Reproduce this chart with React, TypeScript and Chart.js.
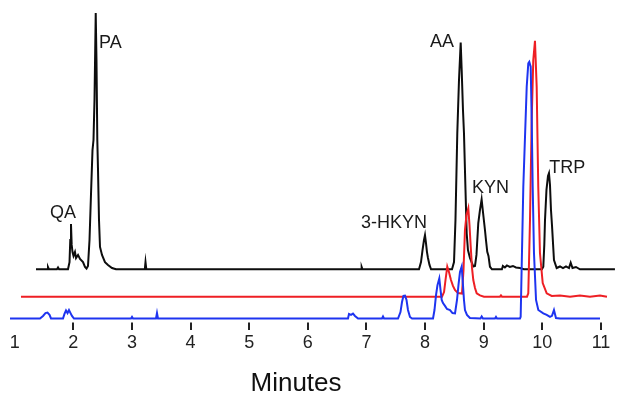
import React, { useEffect, useRef } from 'react';
import { Chart, registerables } from 'chart.js';

Chart.register(...registerables);

// ---------- data (minutes vs normalized signal, each trace relative to its own baseline) ----------
const X_TICKS = [1, 2, 3, 4, 5, 6, 7, 8, 9, 10, 11];
const X_TICK_MARKS = [2, 3, 4, 5, 6, 7, 8, 9, 10, 11];
const X_TITLE = 'Minutes';
const X_TITLE_AT = 5.798;

const blackTime = [
  1.363, 1.551, 1.568, 1.585, 1.721, 1.739, 1.756, 1.909, 1.935, 1.948, 1.96, 1.972, 1.986, 2.003, 2.028, 2.046,
  2.08, 2.114, 2.165, 2.199, 2.225, 2.25, 2.276, 2.301, 2.327, 2.344, 2.361, 2.382, 2.395, 2.409, 2.421, 2.438,
  2.455, 2.489, 2.54, 2.591, 2.66, 2.728, 3.219, 3.231, 3.245, 6.907, 6.918, 6.932, 7.896, 7.93, 7.956, 7.981,
  7.998, 8.015, 8.032, 8.049, 8.075, 8.101, 8.459, 8.493, 8.518, 8.549, 8.578, 8.607, 8.624, 8.646, 8.663, 8.689,
  8.709, 8.731, 8.765, 8.822, 8.851, 8.876, 8.907, 8.936, 8.964, 8.987, 9.021, 9.038, 9.06, 9.081, 9.106, 9.14,
  9.31, 9.327, 9.361, 9.395, 9.446, 9.498, 9.549, 9.617, 9.685, 9.992, 10.016, 10.033, 10.045, 10.07, 10.096,
  10.113, 10.13, 10.147, 10.164, 10.198, 10.244, 10.301, 10.352, 10.403, 10.454, 10.483, 10.514, 10.573, 10.641,
  11.238,
];
const blackSignal = [
  0, 0, 0.9, 0, 0, 0.7, 0, 0, 2.8, 11.4, 17.6, 9.5, 6.7, 5.2, 6.7, 4.4,
  5.6, 4.0, 2.8, 0.9, 0.3, 1.3, 11.4, 28.9, 46.4, 50.3, 65.9, 99.7, 81.4, 50.3, 38.6, 19.2,
  8.7, 5.6, 2.8, 1.7, 0.5, 0, 0, 2.8, 0, 0, 0.9, 0, 0, 2.8, 7.5, 11.4,
  13.3, 10.2, 6.7, 4.4, 1.7, 0, 0, 2.8, 19.2, 53.0, 73.7, 88.2, 77.5, 62.0, 53.0, 30.9,
  14.1, 7.5, 4.4, 1.1, 1.3, 5.6, 18.0, 23.1, 27.2, 22.3, 15.3, 11.4, 6.8, 5.2, 1.0, 0,
  0, 1.3, 0.7, 1.5, 0.9, 1.3, 0.7, 0.5, 0, 0, 1.0, 9.5, 19.2, 30.9, 36.3,
  37.4, 32.8, 23.1, 17.2, 3.6, 0.5, 1.1, 0.5, 1.1, 0.5, 2.6, 0.5, 0.9, 0,
  0,
];

const redTime = [
  1.107, 8.288, 8.323, 8.348, 8.378, 8.407, 8.441, 8.475, 8.509, 8.56, 8.629, 8.655, 8.68, 8.706, 8.737, 8.757,
  8.778, 8.8, 8.822, 8.851, 8.88, 8.936, 9.004, 9.277, 9.294, 9.311, 9.738, 9.76, 9.789, 9.818, 9.845, 9.874,
  9.903, 9.93, 9.959, 10.006, 10.074, 10.159, 10.301, 10.472, 10.641, 10.812, 10.983, 11.102,
];
const redSignal = [
  0, 0, 1.8, 6.5, 11.7, 9.6, 6.5, 4.2, 2.6, 1.4, 1.2, 10.4, 26.0, 31.8, 34.4, 27.9,
  19.5, 11.2, 6.5, 3.4, 1.3, 0.5, 0, 0, 0.5, 0, 0, 1.3, 29.8, 68.8, 92.1, 99.6,
  81.7, 42.8, 17.0, 5.3, 1.3, 0.3, 0.5, 0, 0.5, 0, 0.5, 0,
];

const blueTime = [
  0.92, 1.432, 1.483, 1.525, 1.559, 1.594, 1.619, 1.824, 1.849, 1.875, 1.901, 1.926, 1.952, 1.977, 2.011, 2.984,
  3.001, 3.018, 3.41, 3.427, 3.444, 6.685, 6.702, 6.736, 6.77, 6.804, 6.856, 7.265, 7.282, 7.299, 7.538, 7.58,
  7.606, 7.631, 7.657, 7.683, 7.708, 7.742, 7.777, 8.135, 8.16, 8.186, 8.211, 8.242, 8.263, 8.283, 8.305, 8.339,
  8.373, 8.425, 8.467, 8.51, 8.544, 8.569, 8.595, 8.624, 8.646, 8.663, 8.68, 8.714, 8.765, 8.945, 8.965, 8.987,
  9.192, 9.209, 9.226, 9.618, 9.63, 9.675, 9.733, 9.76, 9.777, 9.801, 9.818, 9.835, 9.857, 9.892, 9.931, 10.016,
  10.074, 10.13, 10.164, 10.198, 10.232, 10.301, 10.983,
];
const blueSignal = [
  0, 0, 1.0, 2.1, 2.3, 1.4, 0, 0, 1.8, 3.1, 2.1, 3.3, 2.1, 1.0, 0, 0,
  0.6, 0, 0, 2.1, 0, 0, 1.8, 1.4, 1.9, 1.0, 0, 0, 0.8, 0, 0, 2.5,
  6.4, 8.8, 8.9, 7.2, 3.3, 0.6, 0, 0, 3.3, 9.1, 13.0, 15.6, 11.1, 7.2, 6.0, 4.9,
  3.7, 3.3, 2.1, 2.0, 7.2, 13.0, 18.1, 20.2, 13.0, 7.2, 3.3, 1.4, 0.2, 0, 0.8, 0,
  0, 0.6, 0, 0, 0.7, 51.3, 90.2, 99.3, 99.9, 98.0, 77.6, 51.3, 25.5, 7.2, 3.3, 2.0,
  1.4, 0.6, 1.0, 3.3, 0.2, 0, 0,
];

// peak annotations, placed in (minutes, signal) of the top (black) trace
const peakNames = ['QA', 'PA', '3-HKYN', 'AA', 'KYN', 'TRP'];
const peakLabelTime = [1.824, 2.631, 7.469, 8.288, 9.115, 10.423];
const peakLabelSignal = [21.8, 87.9, 17.9, 88.6, 31.5, 39.3];

// ---------- styling / stacking ----------
const FONT = '"Liberation Sans", Arial, Helvetica, sans-serif';
const Y_SPAN = 125.5;
const BLUE_MIN = -1.56;
const RED_SHIFT = 8.48;
const BLACK_SHIFT = 19.14;
const TICK_LEN = 7.5;

const toXY = (t: number[], s: number[]) => t.map((v, i) => ({ x: v, y: s[i] }));

const annotatePlugin = {
  id: 'annotate',
  afterDraw(chart: any) {
    const ctx: CanvasRenderingContext2D = chart.ctx;
    const xs = chart.scales.x;
    const ys = chart.scales.yBlack;
    const bottom = chart.chartArea.bottom;
    ctx.save();
    // tick marks
    ctx.fillStyle = '#222222';
    X_TICK_MARKS.forEach((v) => {
      const px = Math.round(xs.getPixelForValue(v));
      ctx.fillRect(px - 1, bottom, 2, TICK_LEN);
    });
    // peak names
    ctx.font = `18px ${FONT}`;
    ctx.fillStyle = '#1a1a1a';
    ctx.textAlign = 'center';
    ctx.textBaseline = 'middle';
    peakNames.forEach((name, i) => {
      ctx.fillText(name, xs.getPixelForValue(peakLabelTime[i]), ys.getPixelForValue(peakLabelSignal[i]));
    });
    // axis title
    ctx.font = `26px ${FONT}`;
    ctx.fillStyle = '#111';
    ctx.fillText(X_TITLE, xs.getPixelForValue(X_TITLE_AT), chart.height - 13);
    ctx.restore();
  },
};

export default function App() {
  const ref = useRef<HTMLCanvasElement | null>(null);

  useEffect(() => {
    document.body.style.margin = '0';
    const canvas = ref.current;
    if (!canvas) return;
    const line = { pointRadius: 0, borderWidth: 2, tension: 0, fill: false };
    const chart = new Chart(canvas, {
      type: 'line',
      data: {
        datasets: [
          { ...line, label: 'blue', data: toXY(blueTime, blueSignal), borderColor: '#1e34f0', yAxisID: 'yBlue' },
          { ...line, label: 'red', data: toXY(redTime, redSignal), borderColor: '#ee1f24', yAxisID: 'yRed' },
          { ...line, label: 'black', data: toXY(blackTime, blackSignal), borderColor: '#0d0d0d', yAxisID: 'yBlack' },
        ],
      },
      options: {
        animation: false,
        responsive: false,
        layout: { padding: { left: 5, right: 1, top: 0, bottom: 0 } },
        plugins: { legend: { display: false }, tooltip: { enabled: false } },
        scales: {
          x: {
            type: 'linear',
            min: 0.8346,
            max: 11.273,
            afterBuildTicks: (s: any) => {
              s.ticks = X_TICKS.map((v) => ({ value: v }));
            },
            border: { display: false },
            grid: {
              drawOnChartArea: false,
              drawTicks: true,
              tickLength: TICK_LEN,
              tickColor: 'rgba(0,0,0,0)',
            },
            ticks: {
              padding: 2.5,
              color: '#222',
              autoSkip: false,
              maxRotation: 0,
              font: { family: FONT, size: 18, lineHeight: 1.2 },
            },
            title: {
              display: true,
              text: X_TITLE,
              color: 'rgba(0,0,0,0)',
              font: { family: FONT, size: 26, lineHeight: 1 },
              padding: { top: 14.4, bottom: 0 },
            },
          },
          yBlue: { display: false, min: BLUE_MIN, max: BLUE_MIN + Y_SPAN },
          yRed: { display: false, min: BLUE_MIN - RED_SHIFT, max: BLUE_MIN - RED_SHIFT + Y_SPAN },
          yBlack: { display: false, min: BLUE_MIN - BLACK_SHIFT, max: BLUE_MIN - BLACK_SHIFT + Y_SPAN },
        },
      },
      plugins: [annotatePlugin],
    });
    return () => chart.destroy();
  }, []);

  return (
    <div style={{ width: 618, height: 397, background: '#fff' }}>
      <canvas ref={ref} width={618} height={397} />
    </div>
  );
}
